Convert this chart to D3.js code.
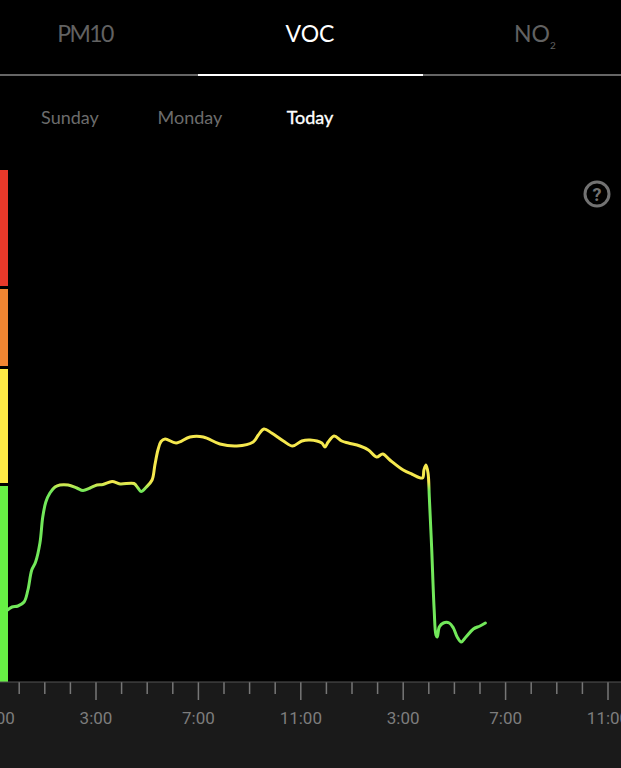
<!DOCTYPE html>
<html>
<head>
<meta charset="utf-8">
<title>VOC</title>
<script src="https://cdn.jsdelivr.net/npm/d3@7"></script>
<style>
  html, body { margin: 0; padding: 0; background: #000; overflow: hidden; }
  svg { display: block; }
</style>
</head>
<body>
<svg id="chart"></svg>
<script>
// hour of day (negative = yesterday evening) and VOC reading
const hours = [-0.46,-0.28,-0.05,0.19,0.34,0.49,0.64,0.81,0.92,1.04,1.20,1.40,1.59,1.91,2.25,2.49,2.77,3.04,3.27,3.63,3.94,4.48,4.64,4.76,4.95,5.19,5.30,5.42,5.54,5.70,6.13,6.67,7.19,7.84,8.50,9.14,9.34,9.56,9.86,10.32,10.68,11.04,11.36,11.82,11.94,12.07,12.30,12.60,12.86,13.31,13.64,13.96,14.20,14.48,15.00,15.33,15.75,15.81,15.89,15.97,16.02,16.11,16.21,16.28,16.33,16.41,16.57,16.80,16.96,17.11,17.27,17.45,17.74,18.00,18.21]
const values = [72,75,76,80,92,112,120,139,165,180,189,195,197,197,194,191.5,194,197,197.5,200.5,198,198.5,194,190.5,194.5,202,217,232,240.5,243,239,245,245,238,236,240,247,253,249,241,236,241,242,239,235,240,246,241,239,236,232,225,228,222,212,208,204,212,217,209,185,135,72,47,45,55,59,59,54,45,40,45,53,56,59]

const bandLow = [0, 199, 316, 396]
const bandHigh = [196, 313, 393, 512]
const bandColors = ["#66f044", "#fdea45", "#f08532", "#e8392a"]

const tickHours = d3.range(-1, 25)
const tabs = ["PM10", "VOC", "NO"]
const days = ["Sunday", "Monday", "Today"]

const width = 621
const height = 768
const margin = { top: 170, bottom: 86 }
const baseline = height - margin.bottom

const svg = d3.select("#chart").attr("width", width).attr("height", height)

const x = d3.scaleLinear().domain([-1, 23]).range([-6.4, 608])
const y = d3.scaleLinear().domain([0, 512]).range([baseline, margin.top])

svg.append("rect").attr("width", width).attr("height", height).attr("fill", "#000")
svg.append("rect").attr("y", baseline).attr("width", width).attr("height", height - baseline).attr("fill", "#1a1a1a")

// header tabs
const tabFont = "Lato, 'Noto Sans', sans-serif"
const tabX = [85, 310, 532]
svg.append("g").selectAll("text").data(tabs).join("text")
  .attr("x", (d, i) => tabX[i])
  .attr("y", 42)
  .attr("text-anchor", "middle")
  .attr("font-family", tabFont)
  .attr("font-size", 23)
  .attr("letter-spacing", d => d === "PM10" ? -1.6 : 0)
  .attr("fill", d => d === "VOC" ? "#fff" : "#626262")
  .text(d => d)
svg.append("text").attr("x", 550).attr("y", 49)
  .attr("font-family", tabFont).attr("font-size", 10).attr("fill", "#626262").text("2")

svg.append("line").attr("x1", 0).attr("x2", width).attr("y1", 75).attr("y2", 75)
  .attr("stroke", "#666").attr("stroke-width", 2)
svg.append("line").attr("x1", 198).attr("x2", 423).attr("y1", 75).attr("y2", 75)
  .attr("stroke", "#fff").attr("stroke-width", 2)

const dayX = [70, 190, 310]
svg.append("g").selectAll("text").data(days).join("text")
  .attr("x", (d, i) => dayX[i])
  .attr("y", 124)
  .attr("text-anchor", "middle")
  .attr("font-family", tabFont)
  .attr("font-size", 18)
  .attr("fill", d => d === "Today" ? "#fff" : "#6c6c6c")
  .attr("stroke", d => d === "Today" ? "#fff" : "none")
  .attr("stroke-width", 0.35)
  .text(d => d)

// severity bands on the left edge
svg.append("g").selectAll("rect").data(bandColors).join("rect")
  .attr("x", 0)
  .attr("width", 8)
  .attr("y", (d, i) => y(bandHigh[i]))
  .attr("height", (d, i) => y(bandLow[i]) - y(bandHigh[i]))
  .attr("fill", d => d)

// line turns yellow above the top of the green band
const grad = svg.append("defs").append("linearGradient")
  .attr("id", "lineColor")
  .attr("gradientUnits", "userSpaceOnUse")
  .attr("x1", 0).attr("x2", 0)
  .attr("y1", y(0)).attr("y2", y(512))
grad.selectAll("stop")
  .data([[0, "#72e85a"], [191, "#72e85a"], [200, "#f5e84e"], [512, "#f5e84e"]])
  .join("stop")
  .attr("offset", d => d[0] / 512)
  .attr("stop-color", d => d[1])

const line = d3.line()
  .x((d, i) => x(hours[i]))
  .y(d => y(d))
  .curve(d3.curveCatmullRom.alpha(0.5))

svg.append("path")
  .datum(values)
  .attr("fill", "none")
  .attr("stroke", "url(#lineColor)")
  .attr("stroke-width", 3)
  .attr("stroke-linejoin", "round")
  .attr("stroke-linecap", "round")
  .attr("d", line)

// time axis, every hour with a label each 4 hours
const isMajor = h => (h + 1) % 4 === 0
const hourLabel = h => isMajor(h) ? (((h + 24) % 12) || 12) + ":00" : ""

const axis = d3.axisBottom(x)
  .tickValues(tickHours)
  .tickFormat(hourLabel)
  .tickSizeOuter(0)
  .offset(0)

svg.append("g")
  .attr("transform", `translate(0,${baseline})`)
  .call(axis)
  .call(g => g.select(".domain").remove())
  .call(g => g.selectAll(".tick line")
    .attr("stroke", "#777")
    .attr("stroke-width", 1.5)
    .attr("y2", h => isMajor(h) ? 18 : 12))
  .call(g => g.selectAll(".tick text")
    .attr("y", 42)
    .attr("dy", 0)
    .attr("fill", "#7d7d7d")
    .attr("font-family", "Roboto, sans-serif")
    .attr("font-size", 17))

svg.append("line").attr("x1", 0).attr("x2", width).attr("y1", baseline).attr("y2", baseline)
  .attr("stroke", "#555").attr("stroke-width", 1)

// help icon
svg.append("circle").attr("cx", 597).attr("cy", 194).attr("r", 12)
  .attr("fill", "none").attr("stroke", "#727272").attr("stroke-width", 3)
svg.append("text").attr("x", 597).attr("y", 200.5).attr("text-anchor", "middle")
  .attr("font-family", "Roboto, sans-serif").attr("font-weight", 700).attr("font-size", 18)
  .attr("fill", "#727272").text("?")
</script>
</body>
</html>
